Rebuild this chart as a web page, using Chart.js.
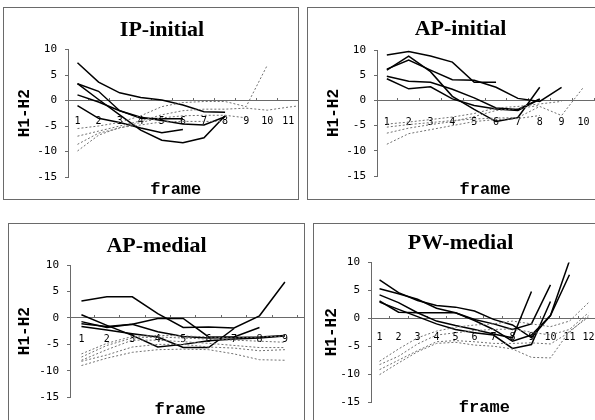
<!DOCTYPE html>
<html><head><meta charset="utf-8">
<script src="https://cdn.jsdelivr.net/npm/chart.js@4.4.1/dist/chart.umd.min.js"></script>
<style>
html,body{margin:0;padding:0;background:#fff;width:595px;height:420px;overflow:hidden;position:relative}
.panel{position:absolute;border:1px solid #6a6a6a;box-sizing:border-box;overflow:hidden;background:#fff}
.panel canvas{position:absolute;left:-1px;top:-1px}
</style></head><body>
<div class="panel" style="left:3px;top:7px;width:296px;height:193px"><canvas id="c1" width="318" height="193"></canvas></div>
<div class="panel" style="left:307px;top:7px;width:290px;height:193px"><canvas id="c2" width="307" height="193"></canvas></div>
<div class="panel" style="left:8px;top:223px;width:297px;height:202px"><canvas id="c3" width="297" height="202"></canvas></div>
<div class="panel" style="left:313px;top:223px;width:290px;height:202px"><canvas id="c4" width="295" height="202"></canvas></div>
<script>
// ---- tick labels ----
const frames = [1, 2, 3, 4, 5, 6, 7, 8, 9, 10, 11, 12];
const yTicks = [-15, -10, -5, 0, 5, 10];
const panelTitles = ['IP-initial', 'AP-initial', 'AP-medial', 'PW-medial'];
const xAxisTitle = 'frame';
const yAxisTitle = 'H1-H2';

// ---- IP-initial ----
const ipSolidA = [7.4, 3.6, 1.5, 0.6, 0.1, -0.9, -2.2, -2.3];
const ipSolidB = [3.3, 1.8, -2.0, -3.5, -3.6, -3.6];
const ipSolidC = [3.3, 0.2, -2.8, -5.8, -7.8, -8.3, -7.3, -3.0];
const ipSolidD = [1.1, -0.3, -2.0, -3.3, -3.9, -4.6, -4.8, -3.2];
const ipSolidE = [-1.0, -3.5, -4.3, -5.4, -6.3, -5.7];
const ipDotted1 = [-5.5, -5.0, -4.3, -3.0, -1.2, -0.4, -0.2, -0.2, -1.2, 6.9];
const ipDotted2 = [-7.0, -6.0, -5.0, -4.0, -2.8, -2.0, -1.7, -1.7, -1.5, -1.9, -1.3, -0.8];
const ipDotted3 = [-8.6, -6.4, -5.4, -4.3, -3.4, -3.0, -2.9, -2.9, -3.4];
const ipDotted4 = [-9.9, -6.8, -5.3, -4.8, -4.2, -4.1, -4.1, -4.1];

// ---- AP-initial ----
const apiSolidA = [9.0, 9.7, 8.8, 7.6, 3.6, 3.6];
const apiSolidB = [6.2, 8.0, 6.0, 4.1, 4.0, 2.6, 0.4, -0.2, 2.6];
const apiSolidC = [6.0, 8.8, 5.7, 0.8, -1.8, -4.2, -3.4, 2.6];
const apiSolidD = [4.8, 3.8, 3.6, 2.2, 0.5, -1.5, -1.8, 0.3];
const apiSolidE = [4.3, 2.3, 2.7, 0.3, -1.0, -1.7, -2.0, 0.2];
const apiDotted1 = [-4.7, -4.3, -3.8, -3.3, -2.6, -1.5, -1.2, -0.7, -0.2];
const apiDotted2 = [-5.3, -4.8, -4.4, -4.0, -3.7, -3.5, -3.4, -1.2, -3.0, 2.6];
const apiDotted3 = [-6.5, -5.5, -4.8, -4.2, -3.2, -2.0, -1.6, -1.0];
const apiDotted4 = [-8.7, -6.6, -5.8, -5.0, -4.2, -3.8, -3.6, -3.0];

// ---- AP-medial ----
const apmSolidA = [3.2, 4.0, 4.0, 0.8, -1.8, -1.7, -1.9, 0.4, 6.8];
const apmSolidB = [0.6, -1.4, -3.3, -5.5, -5.0, -4.3, -4.0, -3.8, -3.4];
const apmSolidC = [-0.7, -1.8, -1.2, -0.1, -0.1, -3.6, -3.6, -1.8];
const apmSolidD = [-1.1, -1.6, -1.2, -2.6, -3.5, -3.8, -3.7, -3.6, -3.3];
const apmSolidE = [-1.6, -2.3, -3.0, -3.6, -5.6, -5.6, -2.0];
const apmDotted1 = [-6.8, -4.8, -3.5, -3.3, -3.4, -3.6, -3.8, -3.6, -3.4];
const apmDotted2 = [-7.4, -5.2, -3.8, -3.6, -3.8, -4.0, -4.2, -4.4, -4.6];
const apmDotted3 = [-8.0, -6.0, -4.2, -4.2, -4.5, -4.8, -5.2, -5.6, -5.6];
const apmDotted4 = [-9.0, -7.6, -6.5, -6.0, -5.9, -6.0, -6.8, -7.9, -8.0];
const apmDotted5 = [-8.2, -7.0, -5.5, -5.0, -5.0, -5.5, -5.7, -6.2, -6.0];

// ---- PW-medial ----
const pwSolidA = [6.9, 4.6, 3.2, 2.3, 2.0, 1.3, -0.2, -1.2, -3.5, 0.5, 7.8];
const pwSolidB = [5.3, 4.4, 3.4, 1.8, 1.0, -0.2, -1.0, -2.0, -1.0, 6.0];
const pwSolidC = [4.2, 2.8, 1.0, -0.5, -1.3, -2.0, -2.8, -3.5, 4.8];
const pwSolidD = [3.1, 1.1, 1.0, 1.0, 1.0, -0.4, -2.0, -4.1, -3.0, 0.5, 10.3];
const pwSolidE = [2.9, 1.6, 0.3, -1.0, -2.0, -2.6, -3.0, -5.4, -4.7, 3.0];
const pwDotted1 = [-7.7, -5.5, -3.5, -2.3, -1.6, -1.2, -1.0, -0.5, -1.0, -1.5, -0.5, 2.8];
const pwDotted2 = [-8.3, -6.8, -4.6, -3.0, -2.6, -2.2, -2.0, -1.9, -2.5, -3.0, -2.0, 1.0];
const pwDotted3 = [-9.2, -7.5, -5.8, -4.2, -4.0, -4.2, -4.5, -4.5, -4.4, -4.6, -2.5, 0.5];
const pwDotted4 = [-10.1, -8.0, -6.0, -4.5, -4.3, -4.8, -5.0, -5.5, -7.0, -7.1, -2.3, 0.2];

const axisColor = '#6a6a6a';

const panels = [
  { id: 'c1', title: panelTitles[0], nCat: 11,
    solid: [ipSolidA, ipSolidB, ipSolidC, ipSolidD, ipSolidE],
    dotted: [ipDotted1, ipDotted2, ipDotted3, ipDotted4],
    xMin: 0.55, xMax: 12.55, yAxisWidth: 65, yTitlePad: 12.4, padBottom: 23,
    titlePadTop: 9.8, titlePadBottom: 6.3, labelPad: 15, framePos: 5.66, framePad: 2.8 },
  { id: 'c2', title: panelTitles[1], nCat: 10,
    solid: [apiSolidA, apiSolidB, apiSolidC, apiSolidD, apiSolidE],
    dotted: [apiDotted1, apiDotted2, apiDotted3, apiDotted4],
    xMin: 0.55, xMax: 11.4, yAxisWidth: 70, yTitlePad: 17.7, padBottom: 24,
    titlePadTop: 9.1, titlePadBottom: 7.5, labelPad: 16, framePos: 5.5, framePad: 3.1 },
  { id: 'c3', title: panelTitles[2], nCat: 9,
    solid: [apmSolidA, apmSolidB, apmSolidC, apmSolidD, apmSolidE],
    dotted: [apmDotted1, apmDotted2, apmDotted3, apmDotted4, apmDotted5],
    xMin: 0.55, xMax: 9.79, yAxisWidth: 62, yTitlePad: 7.4, padBottom: 27.7,
    titlePadTop: 9.8, titlePadBottom: 5.8, labelPad: 15, framePos: 4.88, framePad: 2.5 },
  { id: 'c4', title: panelTitles[3], nCat: 12,
    solid: [pwSolidA, pwSolidB, pwSolidC, pwSolidD, pwSolidE],
    dotted: [pwDotted1, pwDotted2, pwDotted3, pwDotted4],
    xMin: 0.55, xMax: 12.93, yAxisWidth: 58, yTitlePad: 9.4, padBottom: 23,
    titlePadTop: 7.1, titlePadBottom: 6.0, labelPad: 13.4, framePos: 6.52, framePad: -4.9 }
];

function series(values, dotted) {
  return {
    data: values.map((v, i) => ({ x: frames[i], y: v })),
    borderColor: dotted ? '#707070' : '#000',
    borderWidth: dotted ? 1 : 1.5,
    borderDash: dotted ? [2, 2] : [],
    pointRadius: 0,
    tension: 0,
    fill: false
  };
}

panels.forEach(p => {
  const datasets = p.dotted.map(d => series(d, true)).concat(p.solid.map(s => series(s, false)));
  const cats = frames.slice(0, p.nCat);
  new Chart(document.getElementById(p.id), {
    type: 'line',
    data: { datasets },
    options: {
      responsive: false,
      animation: false,
      events: [],
      layout: { padding: { left: 0, top: 0, right: 0, bottom: p.padBottom } },
      plugins: {
        legend: { display: false },
        tooltip: { enabled: false },
        title: {
          display: true, text: p.title, color: '#000',
          font: { family: 'Liberation Serif', size: 22, weight: 'bold', lineHeight: 1.2 },
          padding: { top: p.titlePadTop, bottom: p.titlePadBottom }
        }
      },
      scales: {
        x: {
          type: 'linear', position: { y: 0 }, min: p.xMin, max: p.xMax, bounds: 'data',
          afterBuildTicks: s => { s.ticks = frames.map(f => ({ value: f + 0.5 })); },
          ticks: { display: false },
          grid: { display: true, drawOnChartArea: false, drawTicks: true, tickLength: -3, color: axisColor },
          border: { display: true, color: axisColor, width: 1 }
        },
        xl: {
          type: 'linear', position: { y: 0 }, min: p.xMin, max: p.xMax, bounds: 'data',
          afterBuildTicks: s => { s.ticks = cats.map(f => ({ value: f })); },
          ticks: { display: true, autoSkip: false, maxRotation: 0, minRotation: 0, padding: p.labelPad,
                   color: '#000', font: { family: 'DejaVu Sans Mono', size: 10 },
                   callback: v => String(v) },
          grid: { display: false, drawTicks: false },
          border: { display: false }
        },
        xf: {
          type: 'linear', position: { y: yTicks[0] }, min: p.xMin, max: p.xMax, bounds: 'data',
          afterBuildTicks: s => { s.ticks = [{ value: p.framePos }]; },
          ticks: { display: true, autoSkip: false, maxRotation: 0, minRotation: 0, padding: p.framePad,
                   color: '#000', font: { family: 'Liberation Mono', size: 17, weight: 'bold', lineHeight: 1.2 },
                   callback: () => xAxisTitle },
          grid: { display: false, drawTicks: false },
          border: { display: false }
        },
        y: {
          type: 'linear', position: 'left', min: yTicks[0], max: yTicks[yTicks.length - 1],
          afterBuildTicks: s => { s.ticks = yTicks.map(v => ({ value: v })); },
          ticks: { padding: 8, color: '#000', font: { family: 'DejaVu Sans Mono', size: 11 } },
          grid: { display: true, drawOnChartArea: false, drawTicks: true, tickLength: 3, color: axisColor },
          border: { display: true, color: axisColor, width: 1 },
          title: { display: true, text: yAxisTitle, color: '#000',
                   font: { family: 'Liberation Mono', size: 16, weight: 'bold', lineHeight: 1.2 },
                   padding: { top: p.yTitlePad, bottom: 0 } },
          afterFit: s => { s.width = p.yAxisWidth; }
        }
      }
    }
  });
});
</script>
</body></html>
